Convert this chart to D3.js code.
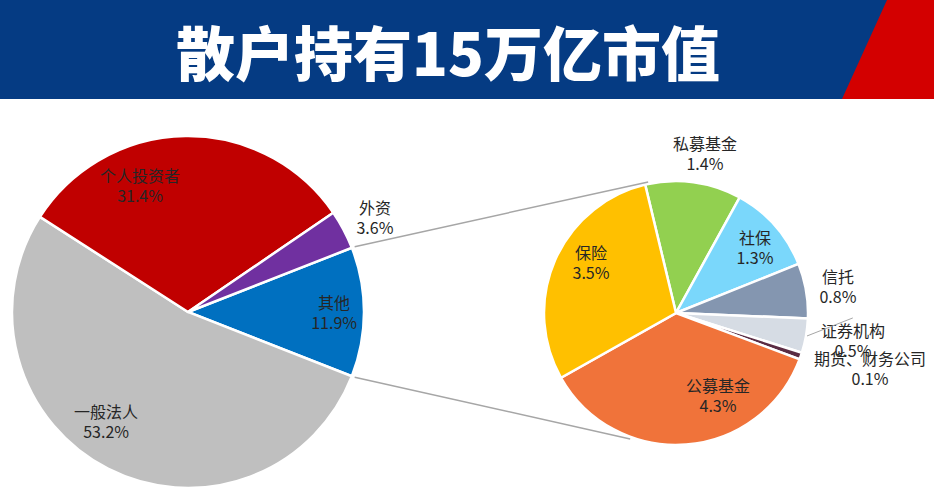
<!DOCTYPE html>
<html>
<head>
<meta charset="utf-8">
<script src="https://cdn.jsdelivr.net/npm/d3@7"></script>
<style>
  body { margin: 0; background: #fff; }
  svg { display: block; font-family: "Noto Sans CJK SC", "Noto Sans", sans-serif; }
</style>
</head>
<body>
<div id="chart"></div>
<script>
const title = "散户持有15万亿市值";

// main pie
const mainNames = ["其他", "一般法人", "个人投资者", "外资"];
const mainValues = [11.9, 53.2, 31.4, 3.6];
const mainColors = ["#0070C0", "#BFBFBF", "#C00000", "#7030A0"];

// breakdown of 其他
const subNames = ["私募基金", "社保", "信托", "证券机构", "期货、财务公司", "公募基金", "保险"];
const subValues = [1.4, 1.3, 0.8, 0.5, 0.1, 4.3, 3.5];
const subColors = ["#92D050", "#7AD7FB", "#8496B0", "#D6DCE4", "#5B2C43", "#F0733A", "#FFC000"];

let w = 934, h = 504;
const deg = Math.PI / 180;

const svg = d3.select("#chart")
  .append("svg")
  .attr("width", w)
  .attr("height", h);

// title bar
svg.append("rect")
  .attr("x", 0).attr("y", 0)
  .attr("width", w).attr("height", 99)
  .attr("fill", "#053B83");
svg.append("path")
  .attr("d", "M887,0 L" + w + ",0 L" + w + ",99 L842,99 Z")
  .attr("fill", "#D30000");
svg.append("text")
  .attr("x", 448)
  .attr("y", 76)
  .attr("text-anchor", "middle")
  .attr("fill", "#fff")
  .style("font-size", "59px")
  .style("font-weight", 900)
  .text(title);

let main = { cx: 188, cy: 312, r: 176 };
let sub = { cx: 676, cy: 313, r: 132 };

let mainTotal = d3.sum(mainValues);
let half = mainValues[0] / mainTotal * Math.PI;
let mainPie = d3.pie().sort(null)
  .startAngle(Math.PI / 2 - half)
  .endAngle(Math.PI / 2 - half + 2 * Math.PI);
let subPie = d3.pie().sort(null)
  .startAngle(346.5 * deg)
  .endAngle(346.5 * deg + 2 * Math.PI);

let mainArcs = mainPie(mainValues);
let subArcs = subPie(subValues);

let arcMain = d3.arc().innerRadius(0).outerRadius(main.r);
let arcSub = d3.arc().innerRadius(0).outerRadius(sub.r);

let gMain = svg.append("g").attr("transform", "translate(" + main.cx + "," + main.cy + ")");
gMain.selectAll("path")
  .data(mainArcs)
  .enter()
  .append("path")
  .attr("d", arcMain)
  .attr("fill", (d, i) => mainColors[i])
  .attr("stroke", "#fff")
  .attr("stroke-width", 2.5);

let gSub = svg.append("g").attr("transform", "translate(" + sub.cx + "," + sub.cy + ")");
gSub.selectAll("path")
  .data(subArcs)
  .enter()
  .append("path")
  .attr("d", arcSub)
  .attr("fill", (d, i) => subColors[i])
  .attr("stroke", "#fff")
  .attr("stroke-width", 2.5);

// connector lines from 其他 edges to the second pie
let pt = (c, r, a) => [c.cx + r * Math.sin(a), c.cy - r * Math.cos(a)];
let other = mainArcs[0];
let links = [
  [pt(main, main.r + 3, other.startAngle), pt(sub, sub.r + 2, 348 * deg)],
  [pt(main, main.r + 3, other.endAngle), pt(sub, sub.r + 2, 200 * deg)]
];
svg.selectAll("line.link")
  .data(links)
  .enter()
  .append("line")
  .attr("class", "link")
  .attr("x1", d => d[0][0]).attr("y1", d => d[0][1])
  .attr("x2", d => d[1][0]).attr("y2", d => d[1][1])
  .attr("stroke", "#A6A6A6")
  .attr("stroke-width", 1.5);

// leader line for 证券机构 (drawn under its label)
let sec = subArcs[3];
let midA = (sec.startAngle + sec.endAngle) / 2;
let p1 = pt(sub, sub.r + 1, midA);
let p2 = pt(sub, sub.r * 1.34, 91.6 * deg);
svg.append("line")
  .attr("x1", p1[0]).attr("y1", p1[1])
  .attr("x2", p2[0]).attr("y2", p2[1])
  .attr("stroke", "#A6A6A6")
  .attr("stroke-width", 1);

// label positions as (angle in degrees, radius factor)
let mainLabelPos = [[90.4, 0.83], [216.8, 0.777], [339.1, 0.764], [63.2, 1.19]];
let subLabelPos = [[10.3, 1.224], [50.5, 0.775], [81.05, 1.242], [99, 1.357], [106, 1.529], [153.3, 0.708], [300.7, 0.749]];

function addLabels(g, c, arcs, names, values, pos) {
  let lab = g.selectAll("g.lab")
    .data(arcs)
    .enter()
    .append("g")
    .attr("class", "lab")
    .attr("transform", (d, i) => {
      let a = pos[i][0] * deg, r = c.r * pos[i][1];
      return "translate(" + (r * Math.sin(a)) + "," + (-r * Math.cos(a)) + ")";
    });
  lab.append("text")
    .attr("text-anchor", "middle")
    .attr("y", -4)
    .attr("fill", "#262626")
    .style("font-size", "16px")
    .text((d, i) => names[i]);
  lab.append("text")
    .attr("text-anchor", "middle")
    .attr("y", 16)
    .attr("fill", "#262626")
    .style("font-size", "16px")
    .text((d, i) => values[i].toFixed(1) + "%");
}
addLabels(gMain, main, mainArcs, mainNames, mainValues, mainLabelPos);
addLabels(gSub, sub, subArcs, subNames, subValues, subLabelPos);
</script>
</body>
</html>
